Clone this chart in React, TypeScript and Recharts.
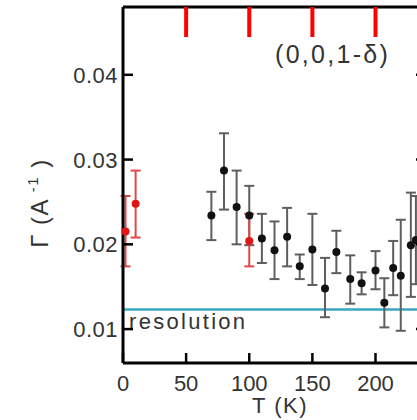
import { ScatterChart, Scatter, XAxis, YAxis, ErrorBar, ReferenceLine } from "recharts"

const FONT = "'Liberation Sans', Arial, sans-serif"
const TEXT = "#333"
const PLOT_TOP = 7

// black points (T in K, Gamma in 1/A) with the ends of their error bars
const blackTemps = [70, 80, 90, 100, 110, 120, 130, 140, 150, 160, 169, 180, 189, 200, 207, 214, 220, 228, 232]
const blackGamma = [0.0234, 0.0287, 0.0244, 0.0234, 0.0207, 0.0193, 0.0209, 0.0174, 0.0194, 0.0148, 0.0191, 0.0159, 0.0154, 0.0169, 0.0131, 0.0172, 0.0163, 0.0199, 0.0205]
const blackTop = [0.0262, 0.0331, 0.0287, 0.0269, 0.0236, 0.0227, 0.0243, 0.0188, 0.0236, 0.0184, 0.0216, 0.0187, 0.0167, 0.0192, 0.016, 0.0204, 0.0229, 0.0261, 0.0257]
const blackBottom = [0.0205, 0.0241, 0.02, 0.0199, 0.0178, 0.0159, 0.0174, 0.0159, 0.0152, 0.0114, 0.0166, 0.013, 0.0141, 0.0147, 0.0102, 0.014, 0.0098, 0.0138, 0.0153]

// red points
const redTemps = [2, 10, 100]
const redGamma = [0.0215, 0.0248, 0.0204]
const redTop = [0.0257, 0.0287, 0.0236]
const redBottom = [0.0174, 0.0208, 0.0174]

const resolution = 0.0123

const xTicks = [0, 50, 100, 150, 200]
const yTicks = [0.01, 0.02, 0.03, 0.04]

function buildRows(temps: number[], gamma: number[], top: number[], bottom: number[]) {
  return temps.map((t, i) => ({ t, g: gamma[i], err: [gamma[i] - bottom[i], top[i] - gamma[i]] }))
}

const blackRows = buildRows(blackTemps, blackGamma, blackTop, blackBottom)
const redRows = buildRows(redTemps, redGamma, redTop, redBottom)

// bottom tick, plus the matching inward tick hanging from the top frame line
const BottomTick = (props: any) => {
  const { x, y, payload } = props
  return (
    <g>
      <path d={`M${x},${y}V${y - 10}`} stroke="#000" strokeWidth={2.5} fill="none" />
      {Number(payload.value) > 0 && (
        <path d={`M${x},${PLOT_TOP}V${PLOT_TOP + 30}`} stroke="#ff0000" strokeWidth={4} fill="none" />
      )}
      <text x={x} y={y + 28} textAnchor="middle" fontSize={22} fill={TEXT} fontFamily={FONT}>
        {payload.value}
      </text>
    </g>
  )
}

const LeftTick = (props: any) => {
  const { x, y, payload } = props
  return (
    <g>
      <line x1={x} y1={y} x2={x + 10} y2={y} stroke="#000" strokeWidth={2.5} />
      <text x={x - 5} y={y + 8} textAnchor="end" fontSize={22} letterSpacing={0.5} fill={TEXT} fontFamily={FONT}>
        {payload.value}
      </text>
    </g>
  )
}

const RightTick = (props: any) => {
  const { x, y } = props
  return <line x1={x} y1={y} x2={x - 10} y2={y} stroke="#000" strokeWidth={2.5} />
}

const dot = (color: string) => (p: any) => <circle cx={p.cx} cy={p.cy} r={4} fill={color} />

const ResolutionLabel = (props: any) => {
  const { viewBox } = props
  return (
    <text x={viewBox.x + 6} y={viewBox.y + 19} fontSize={22} letterSpacing={2.3} fill={TEXT} fontFamily={FONT}>
      resolution
    </text>
  )
}

export default function App() {
  return (
    <div style={{ position: "absolute", left: 0, top: 0, width: 417, height: 420, overflow: "hidden", background: "#fff" }}>
      <ScatterChart width={430} height={420} margin={{ top: PLOT_TOP - 1, right: 3, bottom: 0, left: 0 }}>
        <XAxis
          xAxisId="bottom"
          type="number"
          dataKey="t"
          domain={[0, 240]}
          ticks={xTicks}
          interval={0}
          height={57}
          axisLine={{ stroke: "#000", strokeWidth: 3 }}
          tickLine={false}
          tickSize={0}
          tickMargin={0}
          tick={<BottomTick />}
        />
        {/* frame line along the top */}
        <XAxis
          xAxisId="top"
          orientation="top"
          type="number"
          domain={[0, 240]}
          allowDataOverflow
          height={1}
          axisLine={{ stroke: "#000", strokeWidth: 3 }}
          tickLine={false}
          tick={false}
        />
        <YAxis
          yAxisId="left"
          type="number"
          dataKey="g"
          domain={[0.006, 0.048]}
          ticks={yTicks}
          interval={0}
          width={123}
          axisLine={{ stroke: "#000", strokeWidth: 3 }}
          tickLine={false}
          tickSize={0}
          tickMargin={0}
          tick={<LeftTick />}
        />
        <YAxis
          yAxisId="right"
          orientation="right"
          type="number"
          domain={[0.006, 0.048]}
          allowDataOverflow
          ticks={yTicks}
          interval={0}
          width={1}
          axisLine={{ stroke: "#000", strokeWidth: 3 }}
          tickLine={false}
          tickSize={0}
          tickMargin={0}
          tick={<RightTick />}
        />
        <ReferenceLine
          xAxisId="bottom"
          yAxisId="left"
          y={resolution}
          stroke="#3aa6c2"
          strokeWidth={2.5}
          label={<ResolutionLabel />}
        />
        <Scatter xAxisId="bottom" yAxisId="left" data={blackRows} shape={dot("#111")} isAnimationActive={false}>
          <ErrorBar dataKey="err" direction="y" width={5} stroke="#5e5e5e" strokeWidth={2} />
        </Scatter>
        <Scatter xAxisId="bottom" yAxisId="left" data={redRows} shape={dot("#e01515")} isAnimationActive={false}>
          <ErrorBar dataKey="err" direction="y" width={5} stroke="#e04848" strokeWidth={2} />
        </Scatter>
        <text x={275} y={63} fontSize={25} letterSpacing={2.3} fill={TEXT} fontFamily={FONT}>
          (0,0,1-δ)
        </text>
        <text
          x={48}
          y={203}
          textAnchor="middle"
          transform="rotate(-90 48 203)"
          fontSize={24}
          letterSpacing={1.5}
          fill={TEXT}
          fontFamily={FONT}
        >
          Γ (A
          <tspan fontSize={15} dy={-10}>
            {" -1"}
          </tspan>
          <tspan dy={10}>{" )"}</tspan>
        </text>
        <text x={280} y={413} textAnchor="middle" fontSize={22} letterSpacing={1.5} fill={TEXT} fontFamily={FONT}>
          T (K)
        </text>
      </ScatterChart>
    </div>
  )
}
